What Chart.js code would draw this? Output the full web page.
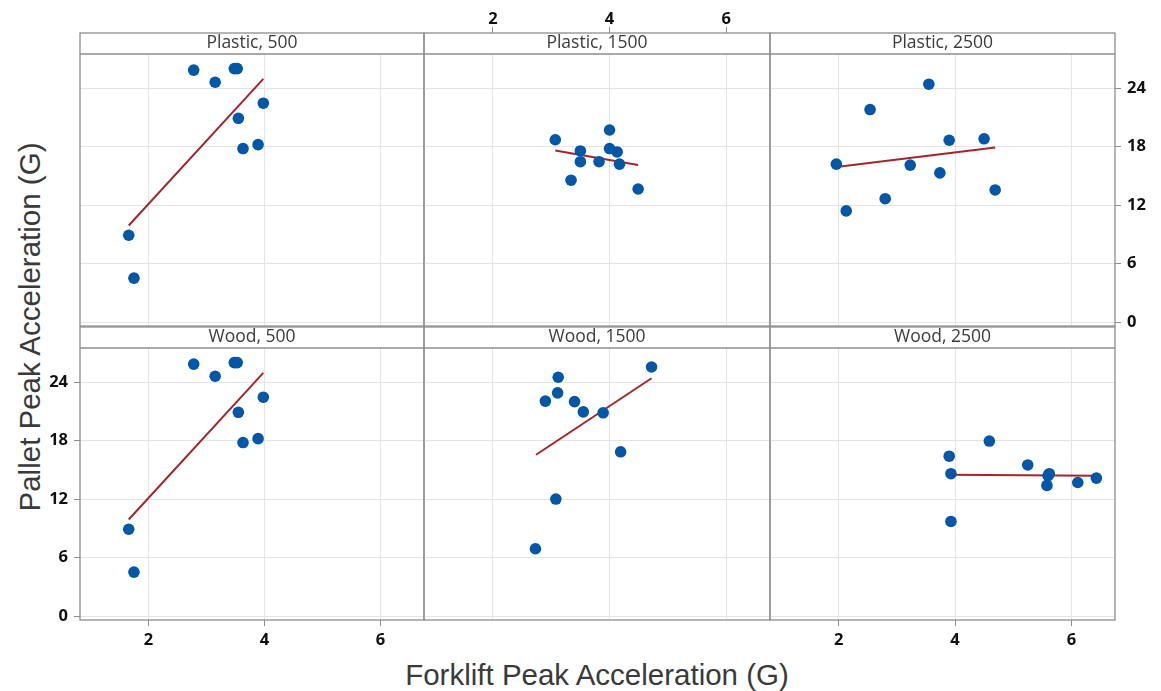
<!DOCTYPE html>
<html>
<head>
<meta charset="utf-8">
<title>Pallet vs Forklift Peak Acceleration</title>
<script src="https://cdn.jsdelivr.net/npm/chart.js@4.4.1/dist/chart.umd.min.js"></script>
<style>
  html, body { margin: 0; padding: 0; background: #ffffff; }
  #wrap { position: relative; width: 1161px; height: 691px; overflow: hidden; background: #ffffff; }
  #wrap canvas { position: absolute; left: 0; top: 0; }
  .axis-title {
    position: absolute;
    font-family: "Liberation Sans", Arial, sans-serif;
    font-size: 29.5px;
    color: #3a3a3a;
    white-space: nowrap;
    line-height: 1;
  }
  #xTitle { left: 597px; top: 675px; transform: translate(-50%, -50%); }
  #yTitle { left: 30px; top: 327px; transform: translate(-50%, -50%) rotate(-90deg); }
</style>
</head>
<body>
<div id="wrap">
  <div class="axis-title" id="xTitle">Forklift Peak Acceleration (G)</div>
  <div class="axis-title" id="yTitle">Pallet Peak Acceleration (G)</div>
</div>
<script>
// Panel categories
const materials = ['Plastic', 'Wood'];
const loads = [500, 1500, 2500];

// Shared tick labels
const xTickValues = [2, 4, 6];
const yTickValues = [0, 6, 12, 18, 24];

// Forklift (x) and pallet (y) peak accelerations, G
const plastic500X = [1.66, 1.75, 2.78, 3.15, 3.48, 3.53, 3.55, 3.63, 3.89, 3.98];
const plastic500Y = [8.9, 4.5, 25.85, 24.6, 26.0, 26.0, 20.9, 17.8, 18.2, 22.45];
const plastic1500X = [3.07, 3.34, 3.50, 3.50, 3.82, 4.00, 4.00, 4.13, 4.17, 4.49];
const plastic1500Y = [18.7, 14.55, 17.55, 16.45, 16.45, 19.7, 17.8, 17.45, 16.2, 13.65];
const plastic2500X = [1.96, 2.13, 2.54, 2.80, 3.23, 3.55, 3.74, 3.90, 4.50, 4.69];
const plastic2500Y = [16.2, 11.4, 21.8, 12.65, 16.1, 24.4, 15.3, 18.65, 18.8, 13.55];
const wood500X = [1.66, 1.75, 2.78, 3.15, 3.48, 3.53, 3.55, 3.63, 3.89, 3.98];
const wood500Y = [8.9, 4.5, 25.85, 24.6, 26.0, 26.0, 20.9, 17.8, 18.2, 22.45];
const wood1500X = [2.73, 2.90, 3.08, 3.11, 3.12, 3.40, 3.55, 3.89, 4.19, 4.72];
const wood1500Y = [6.9, 22.05, 12.0, 22.9, 24.5, 22.0, 20.95, 20.85, 16.85, 25.55];
const wood2500X = [3.90, 3.93, 3.93, 4.59, 5.25, 5.58, 5.60, 5.62, 6.11, 6.43];
const wood2500Y = [16.4, 14.6, 9.7, 17.95, 15.5, 13.4, 14.4, 14.6, 13.7, 14.15];

// Fitted regression line end points per panel
const plastic500FitX = [1.66, 3.98];
const plastic500FitY = [9.9, 24.95];
const plastic1500FitX = [3.07, 4.49];
const plastic1500FitY = [17.6, 16.1];
const plastic2500FitX = [1.96, 4.69];
const plastic2500FitY = [15.9, 17.9];
const wood500FitX = [1.66, 3.98];
const wood500FitY = [9.9, 24.95];
const wood1500FitX = [2.74, 4.72];
const wood1500FitY = [16.55, 24.4];
const wood2500FitX = [3.90, 6.43];
const wood2500FitY = [14.5, 14.38];

// ---- layout of the panel grid ----
const W = 1161, H = 691;
const colEdges = [80, 424, 770, 1115];
const rowEdges = [[33, 326], [327, 620]]; // [strip top, plot bottom]
const STRIP = 21;
const AXIS_BAND = { left: 50, right: 40, top: 30, bottom: 40 }; // room for tick labels
const X_MIN = 0.82, X_MAX = 6.75;
const Y_MIN = -0.41, Y_MAX = 27.5;

const DOT = '#0456a6';
const FIT = '#a3262a';
const GRID = '#e4e4e4';
const FRAME = '#8e8e8e';
const TICK_FONT = { family: "'Open Sans', 'Noto Sans', sans-serif", size: 16.5, weight: 'bold' };

const panels = [
  { row: 0, col: 0, x: plastic500X, y: plastic500Y, fx: plastic500FitX, fy: plastic500FitY, xAxis: 'none', yAxis: 'none' },
  { row: 0, col: 1, x: plastic1500X, y: plastic1500Y, fx: plastic1500FitX, fy: plastic1500FitY, xAxis: 'top', yAxis: 'none' },
  { row: 0, col: 2, x: plastic2500X, y: plastic2500Y, fx: plastic2500FitX, fy: plastic2500FitY, xAxis: 'none', yAxis: 'right' },
  { row: 1, col: 0, x: wood500X, y: wood500Y, fx: wood500FitX, fy: wood500FitY, xAxis: 'bottom', yAxis: 'left' },
  { row: 1, col: 1, x: wood1500X, y: wood1500Y, fx: wood1500FitX, fy: wood1500FitY, xAxis: 'none', yAxis: 'none' },
  { row: 1, col: 2, x: wood2500X, y: wood2500Y, fx: wood2500FitX, fy: wood2500FitY, xAxis: 'bottom', yAxis: 'none' }
];

// Panel border and strip separator
const panelFrame = {
  id: 'panelFrame',
  afterDraw(chart) {
    const { ctx, chartArea: a } = chart;
    const top = a.top - STRIP;
    ctx.save();
    ctx.strokeStyle = FRAME;
    ctx.lineWidth = 1.3;
    ctx.strokeRect(a.left, top, a.right - a.left, a.bottom - top);
    ctx.beginPath();
    ctx.moveTo(a.left, a.top);
    ctx.lineTo(a.right, a.top);
    ctx.stroke();
    ctx.restore();
  }
};

const wrap = document.getElementById('wrap');

function toPoints(xs, ys) {
  return xs.map((v, i) => ({ x: v, y: ys[i] }));
}

panels.forEach(p => {
  const canvas = document.createElement('canvas');
  canvas.width = W;
  canvas.height = H;
  wrap.appendChild(canvas);

  const L = colEdges[p.col], R = colEdges[p.col + 1];
  const [T, B] = rowEdges[p.row];
  const showX = p.xAxis !== 'none';
  const showY = p.yAxis !== 'none';

  // axis band sizes for this panel (zero where no labels are drawn)
  const bandL = p.yAxis === 'left' ? AXIS_BAND.left : 0;
  const bandR = p.yAxis === 'right' ? AXIS_BAND.right : 0;
  const bandT = p.xAxis === 'top' ? AXIS_BAND.top : 0;
  const bandB = p.xAxis === 'bottom' ? AXIS_BAND.bottom : 0;

  new Chart(canvas, {
    type: 'scatter',
    data: {
      datasets: [
        {
          data: toPoints(p.x, p.y),
          pointRadius: 5.8,
          pointHoverRadius: 5.8,
          pointBackgroundColor: DOT,
          pointBorderWidth: 0,
          pointBorderColor: DOT
        },
        {
          data: toPoints(p.fx, p.fy),
          showLine: true,
          pointRadius: 0,
          borderColor: FIT,
          borderWidth: 2
        }
      ]
    },
    options: {
      responsive: false,
      animation: false,
      devicePixelRatio: 1,
      events: [],
      layout: {
        padding: {
          left: L - bandL,
          right: W - R - bandR,
          top: T - bandT,
          bottom: H - B - bandB
        }
      },
      plugins: {
        legend: { display: false },
        tooltip: { enabled: false },
        title: {
          display: true,
          text: materials[p.row] + ', ' + loads[p.col],
          position: 'top',
          weight: -1,
          fullSize: false,
          padding: 0,
          color: '#3c3c3c',
          font: { family: "'Open Sans', 'Noto Sans', sans-serif", size: 17.5, weight: 'normal', lineHeight: STRIP + 'px' }
        }
      },
      scales: {
        x: {
          type: 'linear',
          position: p.xAxis === 'top' ? 'top' : 'bottom',
          min: X_MIN,
          max: X_MAX,
          afterBuildTicks: s => { s.ticks = xTickValues.map(v => ({ value: v })); },
          afterFit: s => { s.height = p.xAxis === 'top' ? bandT : bandB; },
          border: { display: false },
          grid: { color: GRID, lineWidth: 1, drawTicks: showX, tickLength: 6, tickColor: FRAME, tickWidth: 1 },
          ticks: { display: showX, font: TICK_FONT, color: '#111111', padding: p.xAxis === 'top' ? -2 : 4, maxRotation: 0, autoSkip: false }
        },
        y: {
          type: 'linear',
          position: p.yAxis === 'right' ? 'right' : 'left',
          min: Y_MIN,
          max: Y_MAX,
          afterBuildTicks: s => { s.ticks = yTickValues.map(v => ({ value: v })); },
          afterFit: s => { s.width = p.yAxis === 'right' ? bandR : bandL; },
          border: { display: false },
          grid: { color: GRID, lineWidth: 1, drawTicks: showY, tickLength: 6, tickColor: FRAME, tickWidth: 1 },
          ticks: { display: showY, font: TICK_FONT, color: '#111111', padding: 6, autoSkip: false }
        }
      }
    },
    plugins: [panelFrame]
  });
});
</script>
</body>
</html>
